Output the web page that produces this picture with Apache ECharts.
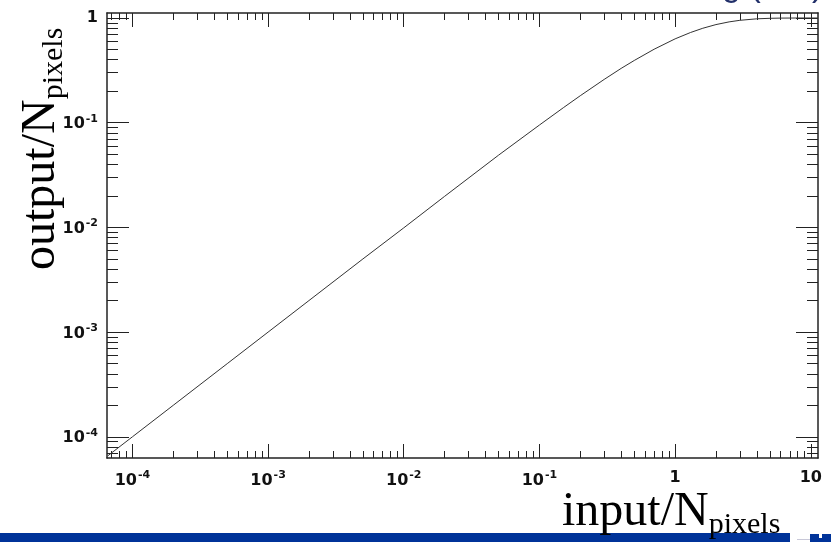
<!DOCTYPE html>
<html>
<head>
<meta charset="utf-8">
<title>output/N pixels vs input/N pixels</title>
<script src="https://cdn.jsdelivr.net/npm/echarts@6/dist/echarts.min.js"></script>
<style>
  html, body { margin: 0; padding: 0; background: #ffffff; }
  #chart { width: 831px; height: 542px; }
</style>
</head>
<body>
<div id="chart"></div>
<script>
// Response curve: fraction of fired pixels versus incident fraction
const inputRatio = [6.6e-5, 1e-4, 2e-4, 5e-4, 1e-3, 2e-3, 5e-3, 0.01, 0.02, 0.05,
  0.1, 0.15, 0.2, 0.3, 0.4, 0.5, 0.7, 1, 1.3, 1.6, 2, 2.5, 3, 4, 5, 6, 8, 10, 11.3];
const outputRatio = [6.6e-5, 1e-4, 2e-4, 5e-4, 1e-3, 2e-3, 0.005, 0.0099, 0.0198, 0.049,
  0.095, 0.139, 0.181, 0.259, 0.33, 0.393, 0.503, 0.632, 0.727, 0.798, 0.865, 0.918, 0.95,
  0.982, 0.993, 0.9975, 0.9997, 1.0, 1.0];

// Axis ranges and decade tick labels
const xRange = [6.5e-5, 11.3];
const yRange = [6.28e-5, 1.116];
const xDecades = [1e-4, 1e-3, 1e-2, 1e-1, 1, 10];
const yDecades = [1e-4, 1e-3, 1e-2, 1e-1, 1];

// Minor ticks at 2..9 times each decade (plus the partial decade below the first one)
function minorTicks(decades) {
  const out = [];
  const all = [decades[0] / 10].concat(decades);
  all.forEach(function (d) {
    for (let k = 2; k <= 9; k++) out.push(+(d * k).toPrecision(3));
  });
  return out;
}
const xMinor = minorTicks(xDecades);
const yMinor = minorTicks(yDecades);

function decadeLabel(v) {
  const e = Math.round(Math.log10(v));
  if (e === 0) return '{b|1}';
  if (e === 1) return '{b|10}';
  return '{b|10}{s|' + e + '}';
}
const labelFont = 'DejaVu Sans';
const labelRich = {
  b: { fontFamily: labelFont, fontWeight: 'bold', fontSize: 16, color: '#111', verticalAlign: 'bottom' },
  s: { fontFamily: labelFont, fontWeight: 'bold', fontSize: 11, color: '#111', verticalAlign: 'top', padding: [0, 0, 8, 1] }
};

const frameLine = { show: true, lineStyle: { color: '#222', width: 1.5 } };
const tickStyle = { color: '#222', width: 1 };

function makeAxis(kind, pos, ticks, len, withLine, withLabel, range) {
  return {
    type: 'log',
    logBase: 10,
    position: pos,
    offset: 0,
    min: range[0],
    max: range[1],
    axisLine: withLine ? frameLine : { show: false },
    axisTick: { show: true, inside: true, length: len, customValues: ticks, lineStyle: tickStyle },
    splitLine: { show: false },
    minorTick: { show: false },
    axisLabel: withLabel ? {
      show: true,
      customValues: ticks,
      formatter: decadeLabel,
      fontFamily: labelFont,
      fontWeight: 'bold',
      fontSize: 16,
      color: '#111',
      rich: labelRich,
      margin: kind === 'x' ? 12 : 9
    } : { show: false }
  };
}

const chart = echarts.init(document.getElementById('chart'), null, { renderer: 'canvas' });

const option = {
  backgroundColor: '#ffffff',
  animation: false,
  grid: { left: 107, right: 13, top: 13, bottom: 84, containLabel: false, outerBoundsMode: 'none' },
  xAxis: [
    makeAxis('x', 'bottom', xDecades, 14, true, true, xRange),
    makeAxis('x', 'bottom', xMinor, 7, false, false, xRange),
    makeAxis('x', 'top', xDecades, 14, true, false, xRange),
    makeAxis('x', 'top', xMinor, 7, false, false, xRange)
  ],
  yAxis: [
    makeAxis('y', 'left', yDecades, 22, true, true, yRange),
    makeAxis('y', 'left', yMinor, 11, false, false, yRange),
    makeAxis('y', 'right', yDecades, 22, true, false, yRange),
    makeAxis('y', 'right', yMinor, 11, false, false, yRange)
  ],
  series: [{
    type: 'line',
    xAxisIndex: 0,
    yAxisIndex: 0,
    data: inputRatio.map(function (x, i) { return [x, outputRatio[i]]; }),
    showSymbol: false,
    symbol: 'none',
    lineStyle: { color: '#333', width: 1 },
    clip: true
  }],
  graphic: [
    // header strip along the bottom edge
    { type: 'rect', shape: { x: 0, y: 533, width: 790, height: 9 }, style: { fill: '#003399' }, z: 1 },
    { type: 'rect', shape: { x: 797, y: 539, width: 13, height: 1 }, style: { fill: '#c8c8d8' }, z: 1 },
    { type: 'rect', shape: { x: 810, y: 534, width: 21, height: 8 }, style: { fill: '#003399' }, z: 1 },
    { type: 'rect', shape: { x: 819, y: 534, width: 3, height: 4 }, style: { fill: '#ffffff' }, z: 1 },
    // title clipped by the top edge
    {
      type: 'text', x: 823, y: -30, z: 5,
      style: { text: 'Detector saturating (sim)', fontFamily: 'Liberation Sans', fontSize: 33,
        fill: '#22306a', align: 'right', verticalAlign: 'top' }
    },
    // x axis title
    {
      type: 'text', x: 562, y: 488, z: 10,
      style: {
        text: '{m|input/N}{s|pixels}',
        align: 'left', verticalAlign: 'top',
        rich: {
          m: { fontFamily: 'Liberation Serif', fontSize: 48, fill: '#000', verticalAlign: 'bottom', padding: [0, 0, 4, 0] },
          s: { fontFamily: 'Liberation Serif', fontSize: 30, fill: '#000', verticalAlign: 'bottom' }
        }
      }
    },
    // y axis title
    {
      type: 'text', x: 17, y: 270, rotation: Math.PI / 2, z: 10,
      style: {
        text: '{m|output/N}{s|pixels}',
        align: 'left', verticalAlign: 'top',
        rich: {
          m: { fontFamily: 'Liberation Serif', fontSize: 48, fill: '#000', verticalAlign: 'bottom', padding: [0, 0, 4, 0] },
          s: { fontFamily: 'Liberation Serif', fontSize: 30, fill: '#000', verticalAlign: 'bottom' }
        }
      }
    }
  ]
};

chart.setOption(option);
</script>
</body>
</html>
